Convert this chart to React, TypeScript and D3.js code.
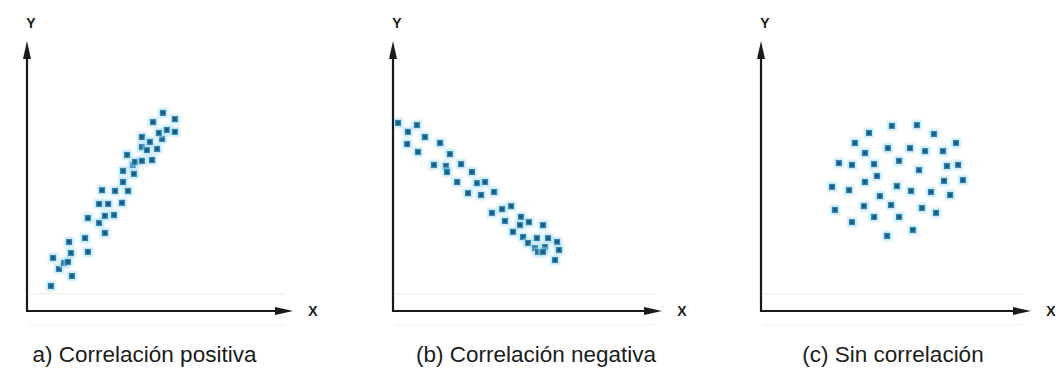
import React from "react";
import * as d3 from "d3";

// Data values in axis units (0..10 along each axis)
const positiveX = [0.90,0.98,1.20,1.39,1.54,1.65,1.69,1.58,2.18,2.29,2.29,2.71,2.93,2.71,3.05,2.93,3.27,2.82,3.31,3.57,3.80,3.61,3.61,4.02,3.98,3.76,4.06,4.32,4.70,4.32,4.51,4.89,4.32,4.62,5.08,4.96,5.26,5.56,4.74,5.56,5.11];
const positiveY = [0.92,1.96,1.55,1.77,1.81,2.14,1.29,2.55,2.69,2.18,3.43,3.25,2.88,3.95,3.95,3.51,3.54,4.46,4.43,3.99,4.43,4.76,5.17,5.06,5.39,5.76,5.50,5.54,5.57,6.05,5.94,5.98,6.42,6.24,6.35,6.57,6.68,6.61,6.97,7.08,7.31];

const negativeX = [0.19,0.90,0.56,1.20,0.53,1.77,0.94,2.14,1.54,1.99,2.03,2.56,2.97,2.41,3.16,3.46,2.82,3.31,3.80,3.72,4.10,4.44,4.21,4.81,4.77,5.11,5.64,4.51,4.89,5.08,5.41,5.34,5.45,5.71,5.83,6.17,5.64,6.24,6.09];
const negativeY = [6.94,6.86,6.61,6.42,6.16,6.20,5.87,5.79,5.39,5.35,5.13,5.42,5.13,4.76,4.72,4.76,4.35,4.28,4.39,3.62,3.76,3.87,3.32,3.47,3.17,3.28,3.17,2.92,2.73,2.51,2.69,2.32,2.18,2.36,2.69,2.55,2.18,2.25,1.88];

const noneX = [4.06,4.92,5.86,6.50,7.33,3.53,4.77,5.60,6.17,6.84,3.91,2.93,3.42,4.25,5.19,5.94,6.99,7.41,4.36,3.91,2.67,3.31,4.47,5.11,5.64,6.39,6.88,7.59,7.11,3.87,4.89,6.05,6.58,2.78,4.25,5.19,3.42,4.74,5.71];
const noneY = [6.57,6.83,6.86,6.53,6.20,6.20,6.01,6.01,5.90,5.90,5.83,5.46,5.39,5.42,5.54,5.20,5.35,5.39,4.98,4.76,4.58,4.46,4.24,4.61,4.43,4.39,4.80,4.83,4.28,3.87,3.91,3.80,3.62,3.73,3.47,3.47,3.28,2.77,2.99];

const captions = ["a) Correlación positiva", "(b) Correlación negativa", "(c) Sin correlación"];
const axisLabels = ["X", "Y"];

const seriesX = [positiveX, negativeX, noneX];
const seriesY = [positiveY, negativeY, noneY];

const W = 1056;
const H = 376;
const originsX = [27, 393, 761];
const tipsX = [293, 662, 1031];
const captionCenters = [144.5, 536, 893];
const originY = 311;
const tipY = 41;

function Panel({ i }: { i: number }) {
  const ox = originsX[i];
  const x = d3.scaleLinear().domain([0, 10]).range([ox, ox + 266]);
  const y = d3.scaleLinear().domain([0, 10]).range([originY, originY - 271]);
  const xs = seriesX[i];
  const ys = seriesY[i];
  const tip = tipsX[i];
  return (
    <g>
      {/* faint scan lines */}
      <line x1={ox + 2} x2={tip - 8} y1={originY - 17} y2={originY - 17} stroke="#ececec" strokeWidth={1} />
      <line x1={ox + 2} x2={tip - 8} y1={originY + 14} y2={originY + 14} stroke="#efefef" strokeWidth={1} />
      {/* points */}
      <g>
        {xs.map((v, k) => (
          <g key={k}>
            <rect x={x(v) - 5} y={y(ys[k]) - 5} width={10} height={10} fill="#a6dbf4" opacity={0.6} filter="url(#soft)" />
            <rect x={x(v) - 3} y={y(ys[k]) - 3} width={6} height={6} fill="#2a84b8" filter="url(#soft2)" />
            <rect x={x(v) - 1.7} y={y(ys[k]) - 1.7} width={3.4} height={3.4} fill="#1b5878" />
          </g>
        ))}
      </g>
      {/* axes */}
      <line x1={ox} x2={ox} y1={originY} y2={tipY + 14} stroke="#1a1a1a" strokeWidth={2.2} />
      <line x1={ox - 1} x2={tip - 14} y1={originY} y2={originY} stroke="#1a1a1a" strokeWidth={2.2} />
      <path d={`M${ox},${tipY} L${ox - 4},${tipY + 18} L${ox + 4},${tipY + 18} Z`} fill="#1a1a1a" />
      <path d={`M${tip},${originY} L${tip - 18},${originY - 4} L${tip - 18},${originY + 4} Z`} fill="#1a1a1a" />
      <text x={ox + 4} y={28} fontFamily="Liberation Sans, Arial, sans-serif" fontWeight="bold" fontSize={14} fill="#1a1a1a" textAnchor="middle">{axisLabels[1]}</text>
      <text x={tip + 20} y={originY + 5} fontFamily="Liberation Sans, Arial, sans-serif" fontWeight="bold" fontSize={14} fill="#1a1a1a" textAnchor="middle">{axisLabels[0]}</text>
      <text x={captionCenters[i]} y={362} fontFamily="Liberation Sans, Arial, sans-serif" fontSize={22.5} fill="#1c1c1c" textAnchor="middle">{captions[i]}</text>
    </g>
  );
}

export default function App() {
  return (
    <svg width={W} height={H} style={{ position: "absolute", left: 0, top: 0, background: "#fff" }}>
      <defs>
        <filter id="soft" x="-50%" y="-50%" width="200%" height="200%">
          <feGaussianBlur stdDeviation={1.2} />
        </filter>
        <filter id="soft2" x="-50%" y="-50%" width="200%" height="200%">
          <feGaussianBlur stdDeviation={0.5} />
        </filter>
      </defs>
      <rect width={W} height={H} fill="#fff" />
      {[0, 1, 2].map((i) => (
        <Panel key={i} i={i} />
      ))}
    </svg>
  );
}
